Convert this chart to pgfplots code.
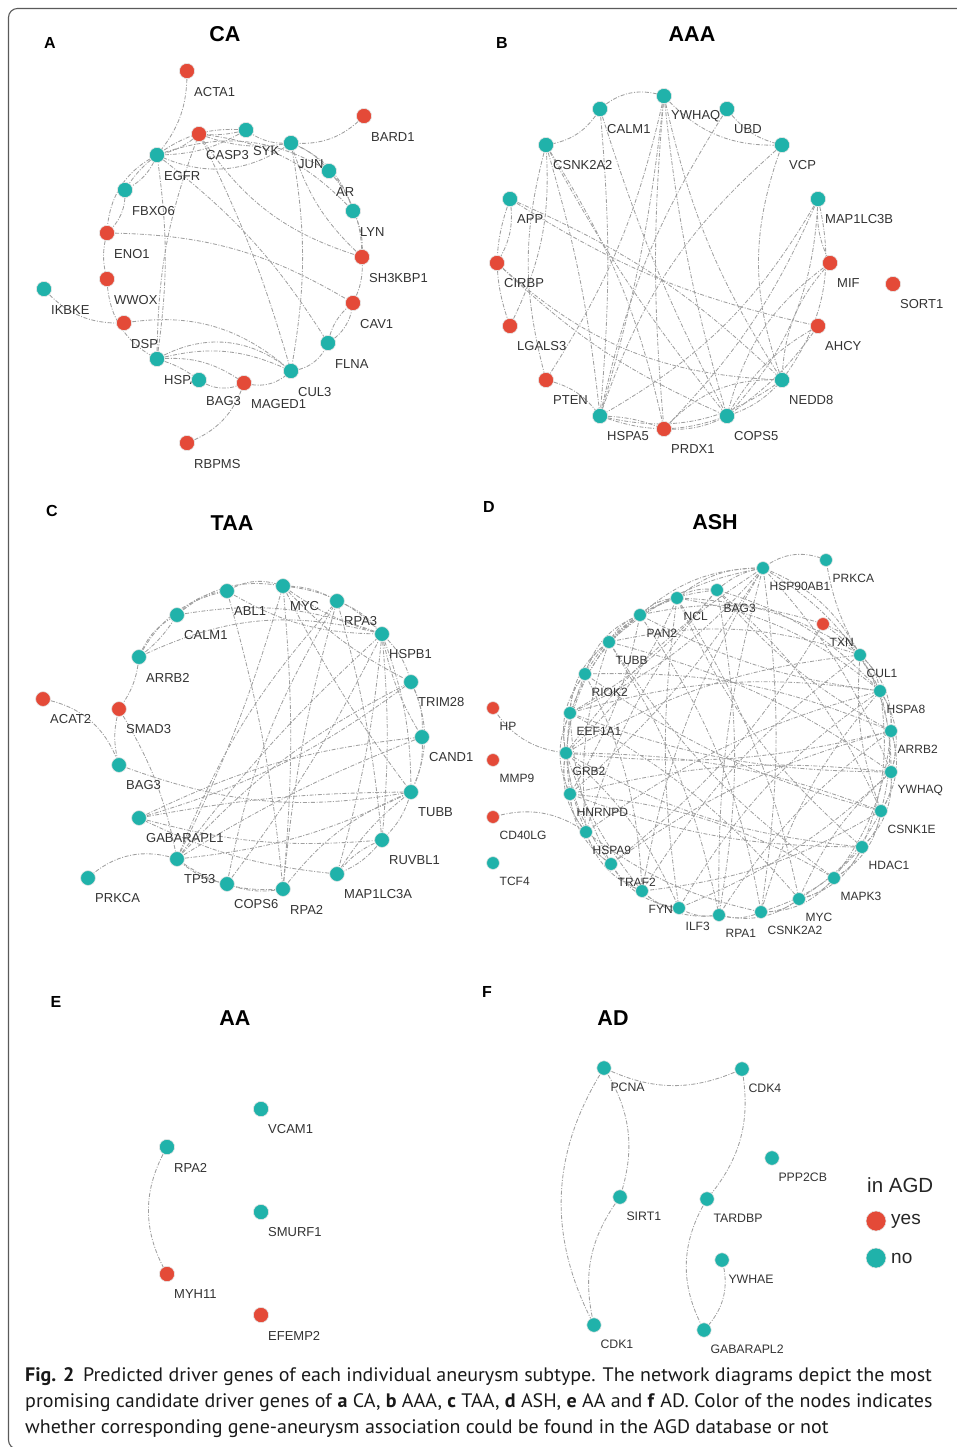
\documentclass[border=0pt]{standalone}
\usepackage{pgfplots}
\pgfplotsset{compat=1.18}
\usepackage{pgfplotstable}
\usepackage{fontspec}
\setmainfont{Liberation Sans}
\newfontfamily\capfont[FakeStretch=1.025]{PT Sans}
\usetikzlibrary{backgrounds}

\definecolor{agdyes}{RGB}{228,74,56}
\definecolor{agdno}{RGB}{32,178,170}
\definecolor{edgegray}{RGB}{160,160,160}
\definecolor{labelgray}{RGB}{51,51,51}
\definecolor{framegray}{RGB}{90,90,90}

% node positions (page pixels, y downwards), c = 1 if listed in AGD
\pgfplotstableread{
x y c id
187 71 1 ACTA1
364 116 1 BARD1
199 134 1 CASP3
246 130 0 SYK
291 143 0 JUN
157 155 0 EGFR
329 171 0 AR
125 190 0 FBXO6
353 211 0 LYN
107 233 1 ENO1
362 257 1 SH3KBP1
107 279 1 WWOX
44 289 0 IKBKE
353 303 1 CAV1
124 323 1 DSP
328 343 0 FLNA
157 359 0 HSPA8
199 380 0 BAG3
244 383 1 MAGED1
291 371 0 CUL3
187 443 1 RBPMS
}\nodesCA

\pgfplotstableread{
x y c id
664 96 0 YWHAQ
600 109 0 CALM1
727 109 0 UBD
546 145 0 CSNK2A2
782 145 0 VCP
510 199 0 APP
818 199 0 MAP1LC3B
497 263 1 CIRBP
830 263 1 MIF
893 284 1 SORT1
510 326 1 LGALS3
818 326 1 AHCY
546 380 1 PTEN
782 380 0 NEDD8
600 416 0 HSPA5
727 416 0 COPS5
664 429 1 PRDX1
}\nodesAAA

\pgfplotstableread{
x y c id
283 586 0 MYC
227 591 0 ABL1
337 601 0 RPA3
177 615 0 CALM1
382 634 0 HSPB1
139 657 0 ARRB2
411 682 0 TRIM28
43 699 1 ACAT2
119 709 1 SMAD3
422 737 0 CAND1
119 765 0 BAG3
411 792 0 TUBB
139 818 0 GABARAPL1
382 840 0 RUVBL1
177 859 0 TP53
88 878 0 PRKCA
337 874 0 MAP1LC3A
227 884 0 COPS6
283 889 0 RPA2
}\nodesTAA

\pgfplotstableread{
x y c id
826 560 0 PRKCA
763 568 0 HSP90AB1
717 590 0 BAG3
677 598 0 NCL
640 615 0 PAN2
823 624 1 TXN
609 642 0 TUBB
860 655 0 CUL1
585 674 0 RIOK2
880 691 0 HSPA8
493 708 1 HP
570 713 0 EEF1A1
891 731 0 ARRB2
566 753 0 GRB2
493 760 1 MMP9
891 772 0 YWHAQ
570 794 0 HNRNPD
881 811 0 CSNK1E
493 817 1 CD40LG
586 832 0 HSPA9
862 847 0 HDAC1
493 863 0 TCF4
611 864 0 TRAF2
834 878 0 MAPK3
642 891 0 FYN
679 908 0 ILF3
719 915 0 RPA1
761 912 0 CSNK2A2
799 899 0 MYC
}\nodesASH

\pgfplotstableread{
x y c id
261 1109 0 VCAM1
167 1147 0 RPA2
261 1212 0 SMURF1
167 1274 1 MYH11
261 1315 1 EFEMP2
}\nodesAA

\pgfplotstableread{
x y c id
604 1068 0 PCNA
742 1069 0 CDK4
772 1158 0 PPP2CB
620 1197 0 SIRT1
707 1199 0 TARDBP
722 1260 0 YWHAE
594 1325 0 CDK1
704 1330 0 GABARAPL2
}\nodesAD

\pgfplotstableread{
x y c id
876 1221 1 yes
876 1258 0 no
}\legendAGD

% one named coordinate per gene (prefix + gene id), for the edges
\newcommand\namegenes[2]{%
  \pgfplotstablegetrowsof{#1}%
  \pgfmathtruncatemacro\nrows{\pgfplotsretval-1}%
  \foreach \i in {0,...,\nrows}{%
    \pgfplotstablegetelem{\i}{x}\of#1\let\gx\pgfplotsretval
    \pgfplotstablegetelem{\i}{y}\of#1\let\gy\pgfplotsretval
    \pgfplotstablegetelem{\i}{id}\of#1\let\gid\pgfplotsretval
    \edef\temp{\noexpand\coordinate (#2\gid) at (axis cs:\gx,\gy);}\temp
  }}

\pgfplotsset{
  invisible marks/.style={only marks, mark=*, mark size=0pt,
    mark options={draw=none, fill=none}},
  % gene names written below right of each node
  gene labels/.style n args={4}{invisible marks,
    point meta=explicit symbolic,
    nodes near coords,
    every node near coord/.style={anchor=west, xshift=#1pt, yshift=-#2pt,
      inner sep=0pt, text=#4, font=\fontsize{#3}{#3}\selectfont}},
  gene marks/.style={scatter, only marks, scatter src=explicit symbolic,
    mark=*, mark size=#1pt, mark options={line width=0.6pt},
    scatter/classes={
      0={mark=*, fill=agdno, draw=white!80!gray},
      1={mark=*, fill=agdyes, draw=white!80!gray}}},
}

\tikzset{
  edge/.style={draw=edgegray, line width=0.85pt,
    dash pattern=on 4pt off 1.6pt on 1pt off 1.6pt},
  panel title/.style={font=\bfseries\fontsize{21.5}{22}\selectfont, text=black},
  panel letter/.style={font=\bfseries\fontsize{16}{16}\selectfont, text=black},
  caption line/.style={anchor=base west, inner sep=0pt,
    font=\capfont\fontsize{19.5}{21}\selectfont, text=black!90},
}

\begin{document}
\begin{tikzpicture}
\useasboundingbox (0,0) rectangle (956pt,1447pt);
\begin{axis}[
  at={(0,0)}, anchor=south west,
  scale only axis, width=956pt, height=1447pt,
  xmin=0, xmax=956, ymin=0, ymax=1447, y dir=reverse,
  enlargelimits=false, hide axis, clip=false,
]
% ---- CA
\addplot[gene labels={7}{21}{13}{labelgray}] table[x=x,y=y,meta=id] {\nodesCA};
\addplot[gene marks=7.6] table[x=x,y=y,meta=c] {\nodesCA};
\namegenes{\nodesCA}{A}
% ---- AAA
\addplot[gene labels={7}{20.5}{13}{labelgray}] table[x=x,y=y,meta=id] {\nodesAAA};
\addplot[gene marks=7.6] table[x=x,y=y,meta=c] {\nodesAAA};
\namegenes{\nodesAAA}{B}
% ---- TAA
\addplot[gene labels={7}{20.5}{13}{labelgray}] table[x=x,y=y,meta=id] {\nodesTAA};
\addplot[gene marks=7.4] table[x=x,y=y,meta=c] {\nodesTAA};
\namegenes{\nodesTAA}{C}
% ---- ASH
\addplot[gene labels={6.5}{18}{12}{labelgray}] table[x=x,y=y,meta=id] {\nodesASH};
\addplot[gene marks=6.4] table[x=x,y=y,meta=c] {\nodesASH};
\namegenes{\nodesASH}{D}
% ---- AA
\addplot[gene labels={7}{20.5}{13}{labelgray}] table[x=x,y=y,meta=id] {\nodesAA};
\addplot[gene marks=7.6] table[x=x,y=y,meta=c] {\nodesAA};
\namegenes{\nodesAA}{E}
% ---- AD
\addplot[gene labels={6.3}{19}{12.3}{labelgray}] table[x=x,y=y,meta=id] {\nodesAD};
\addplot[gene marks=7.2] table[x=x,y=y,meta=c] {\nodesAD};
\namegenes{\nodesAD}{F}
% ---- legend
\addplot[gene labels={15}{0}{19}{black!85}] table[x=x,y=y,meta=id] {\legendAGD};
\addplot[gene marks=10] table[x=x,y=y,meta=c] {\legendAGD};
\node[anchor=west, inner sep=0pt, font=\fontsize{20.5}{21}\selectfont, text=black!85]
  at (axis cs:867,1185) {in AGD};

% panel titles and letters
\node[panel title] at (axis cs:225,34) {CA};
\node[panel title] at (axis cs:692,34) {AAA};
\node[panel title] at (axis cs:232,523) {TAA};
\node[panel title] at (axis cs:715,522) {ASH};
\node[panel title] at (axis cs:235,1018) {AA};
\node[panel title] at (axis cs:613,1018) {AD};
\node[panel letter] at (axis cs:50,43) {A};
\node[panel letter] at (axis cs:502,43) {B};
\node[panel letter] at (axis cs:52,511) {C};
\node[panel letter] at (axis cs:489,507) {D};
\node[panel letter] at (axis cs:56,1002) {E};
\node[panel letter] at (axis cs:487,992) {F};

% caption
\node[caption line] at (axis cs:25,1381) {\textbf{Fig. 2}\hspace{0.45em}Predicted driver genes of each individual aneurysm subtype. The network diagrams depict the most};
\node[caption line] at (axis cs:25,1407) {promising candidate driver genes of \textbf{a} CA, \textbf{b} AAA, \textbf{c} TAA, \textbf{d} ASH, \textbf{e} AA and \textbf{f} AD. Color of the nodes indicates};
\node[caption line] at (axis cs:25,1433) {whether corresponding gene-aneurysm association could be found in the AGD database or not};
\end{axis}

% frame
\draw[framegray, line width=1.1pt, rounded corners=9pt]
  (957pt,1438.5pt) -- (8.5pt,1438.5pt) -- (8.5pt,-2pt) -- (40pt,-2pt);

% interaction edges behind the nodes
\begin{scope}[on background layer]
\foreach \a/\b/\c in {ACTA1/EGFR/20, BARD1/JUN/25, IKBKE/DSP/-25, RBPMS/MAGED1/-25,
  EGFR/FBXO6/20, EGFR/FBXO6/-10, FBXO6/ENO1/25, EGFR/ENO1/-30, ENO1/WWOX/-15,
  WWOX/HSPA8/-30, ENO1/CAV1/15, DSP/CUL3/25, HSPA8/CUL3/20, HSPA8/CUL3/35,
  HSPA8/MAGED1/20, HSPA8/BAG3/10, HSPA8/CASP3/10, HSPA8/EGFR/-8,
  BAG3/MAGED1/-30, MAGED1/CUL3/-30, CUL3/FLNA/-30, FLNA/CAV1/-25, FLNA/CAV1/20,
  CAV1/SH3KBP1/-15, SH3KBP1/LYN/-15, SH3KBP1/AR/-20, SH3KBP1/JUN/15,
  LYN/AR/-15, AR/JUN/-15, LYN/JUN/-25, JUN/EGFR/30, JUN/SYK/20, JUN/CASP3/15,
  SYK/EGFR/15, CASP3/EGFR/15, SYK/CASP3/10, SYK/EGFR/-20, JUN/CUL3/10,
  EGFR/FLNA/10, EGFR/AR/25, CASP3/LYN/20, CASP3/SH3KBP1/-20, CASP3/CUL3/5}
  {\draw[edge] (A\a) to[bend left=\c] (A\b);}
\foreach \a/\b/\c in {CALM1/YWHAQ/30, CALM1/CSNK2A2/25, YWHAQ/VCP/-25, UBD/VCP/-20,
  YWHAQ/HSPA5/5, YWHAQ/PRDX1/-5, YWHAQ/COPS5/-5, YWHAQ/NEDD8/-10, YWHAQ/PTEN/10,
  UBD/HSPA5/-10, VCP/HSPA5/-15, VCP/NEDD8/-20, CSNK2A2/PRDX1/10, CSNK2A2/COPS5/-5,
  CSNK2A2/PTEN/-15, CSNK2A2/HSPA5/5, APP/CIRBP/20, APP/LGALS3/-20, APP/NEDD8/10,
  APP/AHCY/-10, CIRBP/COPS5/-10, CIRBP/NEDD8/-20, MAP1LC3B/HSPA5/15,
  MAP1LC3B/COPS5/20, MAP1LC3B/MIF/-15, MAP1LC3B/NEDD8/25, MAP1LC3B/PRDX1/10,
  MIF/NEDD8/-20, MIF/COPS5/-20, AHCY/COPS5/-15, AHCY/COPS5/10, PTEN/HSPA5/20,
  HSPA5/NEDD8/-25, HSPA5/COPS5/-20, HSPA5/PRDX1/10, PRDX1/COPS5/-15,
  PRDX1/NEDD8/25, COPS5/NEDD8/-15, CALM1/COPS5/-5, CALM1/HSPA5/5, LGALS3/CSNK2A2/-15}
  {\draw[edge] (B\a) to[bend left=\c] (B\b);}
\foreach \a/\b/\c in {ABL1/MYC/25, CALM1/ABL1/20, CALM1/MYC/25, ARRB2/CALM1/20,
  ARRB2/CALM1/-10, ARRB2/ABL1/25, ARRB2/SMAD3/15, SMAD3/BAG3/-15, ACAT2/BAG3/30,
  MYC/RPA3/15, RPA3/HSPB1/15, MYC/HSPB1/20, MYC/HSPB1/-10, HSPB1/TRIM28/15,
  TRIM28/CAND1/15, CAND1/TUBB/15, TRIM28/TUBB/25, HSPB1/TUBB/10, HSPB1/RUVBL1/5,
  HSPB1/MAP1LC3A/5, HSPB1/CAND1/-10, TUBB/RUVBL1/15, RUVBL1/MAP1LC3A/15,
  RUVBL1/MAP1LC3A/-15, RPA2/COPS6/15, COPS6/TP53/15, TP53/RPA2/-20, TP53/PRKCA/-30,
  GABARAPL1/TUBB/5, GABARAPL1/TRIM28/-10, GABARAPL1/CAND1/10, BAG3/TUBB/-15,
  TP53/TUBB/-10, TP53/CAND1/5, TP53/HSPB1/5, TP53/MYC/-5, TP53/RPA3/10,
  TP53/TRIM28/10, RPA2/MYC/-5, RPA2/RPA3/5, RPA2/TUBB/15, ABL1/RPA2/5,
  ABL1/HSPB1/-15, CALM1/HSPB1/15, ARRB2/HSPB1/20, MYC/TRIM28/-10, MYC/TUBB/-5,
  COPS6/HSPB1/-5, COPS6/RPA3/10, SMAD3/TP53/10, MAP1LC3A/TUBB/10,
  MAP1LC3A/GABARAPL1/10, GABARAPL1/RUVBL1/-10, RUVBL1/RPA3/-5}
  {\draw[edge] (C\a) to[bend left=\c] (C\b);}
\foreach \a/\b/\c in {HSP90AB1/BAG3/-15, HSP90AB1/NCL/-20, HSP90AB1/PAN2/-20,
  HSP90AB1/TUBB/-15, HSP90AB1/CUL1/20, HSP90AB1/HSPA8/15, HSP90AB1/YWHAQ/10,
  HSP90AB1/RPA1/-8, HSP90AB1/CSNK2A2/8, HSP90AB1/GRB2/-10, HSP90AB1/EEF1A1/12,
  HSP90AB1/PRKCA/30, HSP90AB1/HNRNPD/8, HSP90AB1/FYN/-10, BAG3/NCL/-20,
  BAG3/HSPA8/15, BAG3/ARRB2/-10, BAG3/RPA1/10, BAG3/TUBB/-20, BAG3/EEF1A1/10,
  BAG3/CSNK1E/12, BAG3/HSPA9/-12, NCL/PAN2/-20, NCL/TUBB/-15, NCL/RIOK2/-20,
  NCL/GRB2/12, NCL/CUL1/15, NCL/ILF3/-8, NCL/MYC/10, NCL/HDAC1/-12, NCL/HSPA8/15,
  PAN2/TUBB/-20, PAN2/RIOK2/-25, PAN2/EEF1A1/-15, PAN2/HNRNPD/10, PAN2/HSPA8/-10,
  PAN2/CSNK2A2/12, PAN2/TXN/15, TUBB/RIOK2/-20, TUBB/EEF1A1/-25, TUBB/GRB2/-15,
  TUBB/HSPA9/-12, TUBB/YWHAQ/10, TUBB/CUL1/15, TUBB/MAPK3/-10, TUBB/RPA1/10,
  RIOK2/EEF1A1/-20, RIOK2/GRB2/-25, RIOK2/HNRNPD/-15, RIOK2/ARRB2/12,
  RIOK2/CSNK1E/-10, RIOK2/FYN/12, EEF1A1/GRB2/-20, EEF1A1/HNRNPD/-25,
  EEF1A1/HSPA9/-15, EEF1A1/HSPA8/12, EEF1A1/YWHAQ/-10, EEF1A1/MYC/10,
  EEF1A1/TRAF2/-12, GRB2/HNRNPD/-20, GRB2/HSPA9/-25, GRB2/TRAF2/-15,
  GRB2/ARRB2/-10, GRB2/CSNK1E/10, GRB2/HDAC1/-12, GRB2/CUL1/12, GRB2/FYN/-10,
  GRB2/ILF3/12, HP/GRB2/-25, HNRNPD/HSPA9/-20, HNRNPD/TRAF2/-25, HNRNPD/YWHAQ/10,
  HNRNPD/HDAC1/-10, HNRNPD/MAPK3/12, HSPA9/TRAF2/-20, HSPA9/FYN/-25,
  HSPA9/HSPA8/10, HSPA9/CSNK2A2/-12, CD40LG/HSPA9/25, TRAF2/FYN/-20,
  TRAF2/ILF3/-25, TRAF2/ARRB2/10, TRAF2/TXN/-10, FYN/ILF3/-20, FYN/RPA1/-25,
  FYN/CUL1/10, FYN/CSNK1E/-12, ILF3/RPA1/-20, ILF3/HSPA8/12, ILF3/YWHAQ/-10,
  RPA1/CSNK2A2/-20, RPA1/MYC/-25, RPA1/ARRB2/10, CSNK2A2/MYC/-20,
  CSNK2A2/MAPK3/-25, CSNK2A2/HDAC1/-15, CSNK2A2/HSPA8/12, MYC/MAPK3/-20,
  MYC/HDAC1/-25, MYC/CSNK1E/-15, MYC/YWHAQ/12, MAPK3/HDAC1/-20,
  MAPK3/CSNK1E/-25, MAPK3/ARRB2/-15, HDAC1/CSNK1E/-20, HDAC1/YWHAQ/-25,
  HDAC1/HSPA8/-15, CSNK1E/YWHAQ/-20, CSNK1E/ARRB2/-25, CSNK1E/HSPA8/-15,
  CSNK1E/CUL1/12, YWHAQ/ARRB2/-20, YWHAQ/HSPA8/-25, YWHAQ/CUL1/-15,
  ARRB2/HSPA8/-20, ARRB2/CUL1/-25, HSPA8/CUL1/-20, HSPA8/TXN/-15, CUL1/TXN/-20,
  PRKCA/CUL1/-10}
  {\draw[edge] (D\a) to[bend left=\c] (D\b);}
\draw[edge] (ERPA2) to[bend left=-30] (EMYH11);
\foreach \a/\b/\c in {PCNA/CDK4/-25, PCNA/CDK1/-30, PCNA/SIRT1/25, SIRT1/CDK1/-25,
  CDK4/TARDBP/25, TARDBP/GABARAPL2/-30, YWHAE/GABARAPL2/30}
  {\draw[edge] (F\a) to[bend left=\c] (F\b);}
\end{scope}
\end{tikzpicture}
\end{document}
